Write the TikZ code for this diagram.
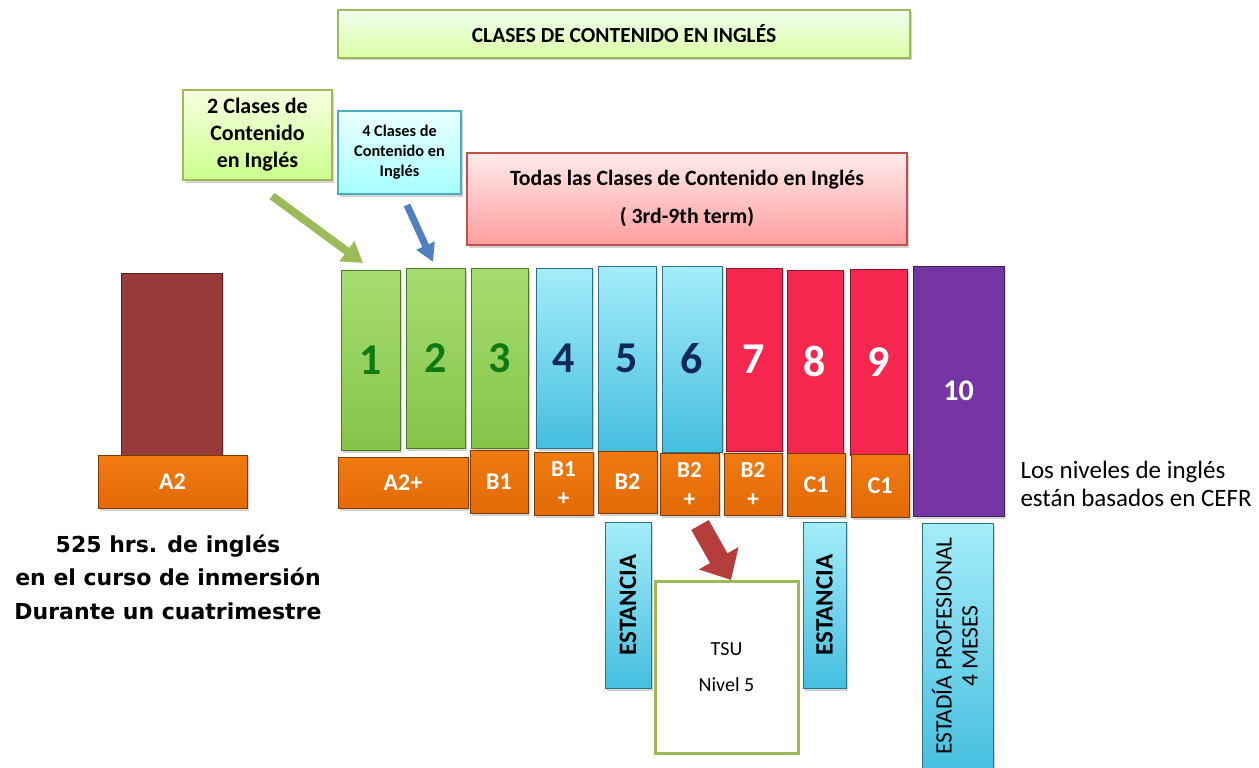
\documentclass[tikz,border=0pt]{standalone}
\usepackage{fontspec}
\setmainfont{Carlito}
\newfontfamily\hrsfont{DejaVu Sans}
\usetikzlibrary{arrows.meta,shadows}
\definecolor{gborder}{HTML}{9BBB59}
\definecolor{bborder}{HTML}{4BACC6}
\definecolor{rborder}{HTML}{C0504D}
\definecolor{colgreen}{HTML}{96D658}
\definecolor{colgreenb}{HTML}{86C448}
\definecolor{colblue}{HTML}{A4ECF9}
\definecolor{colblueb}{HTML}{45BEDF}
\definecolor{colred}{HTML}{F5274F}
\definecolor{colpurple}{HTML}{7535A5}
\definecolor{colmaroon}{HTML}{993A3A}
\definecolor{colorange}{HTML}{F07B10}
\definecolor{colorangeb}{HTML}{E36A08}
\definecolor{digitgreen}{HTML}{0F7A12}
\definecolor{digitnavy}{HTML}{10285A}
\definecolor{arrowgreen}{HTML}{9BBB59}
\definecolor{arrowblue}{HTML}{4F81BD}
\definecolor{arrowred}{HTML}{B53E3C}
\tikzset{
  shad/.style={drop shadow={opacity=0.35,shadow xshift=2pt,shadow yshift=-2.5pt}},
  box/.style={draw,inner sep=0pt,align=center,shad},
  titlebox/.style={box,draw=gborder,line width=1.2pt,top color=green!6!white,bottom color=green!40!yellow!35!white,font=\bfseries\fontsize{21.5}{24}\selectfont},
  gnote/.style={box,draw=gborder,line width=1.2pt,top color=green!25!yellow!12!white,bottom color=green!45!yellow!45!white,font=\bfseries\fontsize{22}{27}\selectfont},
  bnote/.style={box,draw=bborder,line width=1.2pt,top color=cyan!8!white,bottom color=cyan!35!white,font=\bfseries\fontsize{16.3}{20}\selectfont},
  rnote/.style={box,draw=rborder,line width=1.2pt,top color=red!8!white,bottom color=red!38!white,font=\bfseries\fontsize{21.8}{38}\selectfont},
  colbox/.style={box,line width=1pt,font=\bfseries\fontsize{44}{46}\selectfont},
  gcol/.style={colbox,draw=colgreenb!60!black,top color=colgreen!85!white,bottom color=colgreenb,text=digitgreen},
  bcol/.style={colbox,draw=colblueb!60!black,top color=colblue,bottom color=colblueb,text=digitnavy},
  rcol/.style={colbox,draw=colred!55!black,fill=colred,text=white},
  pcol/.style={colbox,draw=colpurple!55!black,fill=colpurple,text=white,font=\bfseries\fontsize{30}{32}\selectfont},
  mcol/.style={box,line width=1pt,draw=colmaroon!60!black,fill=colmaroon},
  obox/.style={box,line width=1pt,draw=colorangeb!55!black,top color=colorange,bottom color=colorangeb,text=white,font=\bfseries\fontsize{24}{28}\selectfont},
  oboxs/.style={obox,font=\bfseries\fontsize{23}{29}\selectfont},
  estbox/.style={box,line width=1pt,draw=colblueb!60!black,top color=colblue,bottom color=colblueb,rotate=90},
  rottext/.style={rotate=90,inner sep=0pt,align=center},
  tsubox/.style={draw=gborder,line width=3pt,fill=white,inner sep=0pt,align=center,font=\fontsize{20}{36}\selectfont}
}
\begin{document}
\begin{tikzpicture}[x=1pt,y=-1pt]
\useasboundingbox (0,0) rectangle (1259,768);
% top notes
\node[titlebox,minimum width=572,minimum height=48] (title) at (624,34) {CLASES DE CONTENIDO EN INGLÉS};
\node[gnote,minimum width=149,minimum height=90] (c2) at (257.5,135) {2 Clases de\\Contenido\\en Inglés};
\node[bnote,minimum width=123,minimum height=83] (c4) at (399.5,152.5) {4 Clases de\\Contenido en\\Inglés};
\node[rnote,minimum width=440,minimum height=92] (todas) at (687,199) {Todas las Clases de Contenido en Inglés\\( 3rd-9th term)};
% columns
\node[mcol,minimum width=101,minimum height=184] (m) at (171.5,365) {};
\node[gcol,minimum width=59,minimum height=180] (col1) at (370.5,360) {1};
\node[gcol,minimum width=59,minimum height=180] (col2) at (435.5,358) {2};
\node[gcol,minimum width=57,minimum height=180] (col3) at (499.5,358) {3};
\node[bcol,minimum width=56,minimum height=180] (col4) at (564,358) {4};
\node[bcol,minimum width=58,minimum height=185] (col5) at (627,358.5) {5};
\node[bcol,minimum width=60,minimum height=186] (col6) at (692,359) {6};
\node[rcol,minimum width=56,minimum height=183] (col7) at (754,359.5) {7};
\node[rcol,minimum width=56,minimum height=183] (col8) at (815,361.5) {8};
\node[rcol,minimum width=57,minimum height=186] (col9) at (878.5,362) {9};
\node[pcol,minimum width=91,minimum height=250] (col10) at (958.5,391) {10};
% level boxes
\node[obox,minimum width=149,minimum height=53] (a2) at (172.5,481.5) {A2};
\node[obox,minimum width=130,minimum height=51] (a2p) at (403,482.5) {A2+};
\node[obox,minimum width=58,minimum height=63] (b1) at (499,481.5) {B1};
\node[oboxs,minimum width=59,minimum height=63] (b1p) at (563.5,483.5) {B1\\+};
\node[obox,minimum width=59,minimum height=62] (b2) at (627.5,482) {B2};
\node[oboxs,minimum width=59,minimum height=62] (b2p) at (689.5,484) {B2\\+};
\node[oboxs,minimum width=58,minimum height=62] (b2q) at (753,484) {B2\\+};
\node[obox,minimum width=58,minimum height=63] (c1a) at (816,484.5) {C1};
\node[obox,minimum width=58,minimum height=63] (c1b) at (880,485.5) {C1};
% lower boxes
\node[estbox,minimum width=166,minimum height=46,font=\bfseries\fontsize{25}{28}\selectfont] (est1) at (628,605) {ESTANCIA};
\node[estbox,minimum width=166,minimum height=43,font=\bfseries\fontsize{25}{28}\selectfont] (est2) at (824.5,605) {ESTANCIA};
\node[estbox,minimum width=250,minimum height=71] (estadia) at (957.5,648) {};
\node[rottext,font=\fontsize{23.5}{26}\selectfont] (estadiatxt) at (955,646) {ESTADÍA PROFESIONAL\\4 MESES};
\node[tsubox,minimum width=143,minimum height=172] (tsu) at (726.5,667) {TSU\\Nivel 5};
% free text
\node[align=center,font=\hrsfont\bfseries\fontsize{22}{33.5}\selectfont] (hrs) at (168,577) {525 hrs. de inglés\\en el curso de inmersión\\Durante un cuatrimestre};
\node[align=left,anchor=west,font=\fontsize{25}{27.5}\selectfont] (cefr) at (1017,484) {Los niveles de inglés\\están basados en CEFR};
% arrows
\coordinate (g0) at (272,196);
\coordinate (g1) at (363,263);
\coordinate (bl0) at (407,205);
\coordinate (bl1) at (433,262);
\coordinate (r0) at (700,525);
\coordinate (r1) at (731,580);
\draw[arrowgreen,line width=8pt,-{Triangle[length=20pt,width=24pt]}] (g0) -- (g1);
\draw[arrowblue,line width=7pt,-{Triangle[length=18pt,width=19pt]}] (bl0) -- (bl1);
\draw[arrowred,line width=20pt,-{Triangle[length=25pt,width=44pt]}] (r0) -- (r1);
\end{tikzpicture}
\end{document}
